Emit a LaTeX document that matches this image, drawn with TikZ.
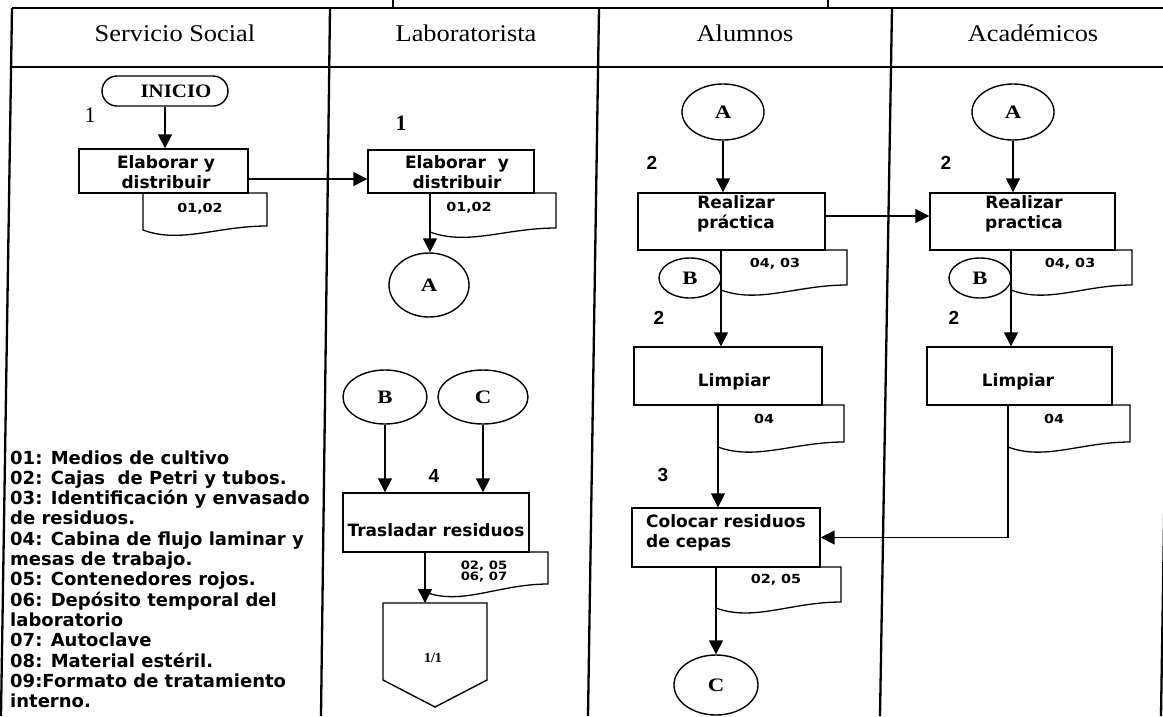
\documentclass[tikz,border=0pt]{standalone}
\usepackage{fontspec}
\setmainfont{Liberation Serif}
\newfontfamily\hdrfont{Liberation Serif}[FakeStretch=1.1]
\newfontfamily\procfont{DejaVu Sans}
\newfontfamily\memofont{DejaVu Sans}[FakeStretch=1.15]
\newfontfamily\digitfont{Liberation Sans}
\newfontfamily\cfont{Liberation Serif}[FakeStretch=1.2]
\usetikzlibrary{arrows.meta,shapes.geometric}

% document symbol: name, left x, top y, right x, bottom-left y, bottom-right y
\newcommand{\docsh}[6]{%
  \draw[line width=1.3pt] (#2,#3) -- (#4,#3) -- (#4,#6)
    .. controls ({#2+0.6*(#4-#2)},#6) and ({#2+0.3*(#4-#2)},{#5+14}) .. (#2,#5) -- cycle;
  \coordinate (#1) at (#2,#3);}

\begin{document}
\begin{tikzpicture}[x=1pt,y=-1pt,
  frame/.style={line width=2.3pt},
  procbox/.style={draw, rectangle, line width=1.4pt, inner sep=0pt},
  boxtxt/.style={font=\procfont\bfseries\fontsize{17}{19.5}\selectfont, align=center, inner sep=0pt},
  doctxt/.style={font=\memofont\bfseries\fontsize{12.5}{12.5}\selectfont, align=center, inner sep=0pt},
  conn/.style={draw, ellipse, line width=1.4pt, inner sep=0pt, font=\cfont\bfseries\fontsize{19}{19}\selectfont},
  hdr/.style={font=\hdrfont\fontsize{24}{24}\selectfont, inner sep=0pt},
  serifnum/.style={font=\fontsize{22}{22}\selectfont, inner sep=0pt},
  stepnum/.style={font=\digitfont\bfseries\fontsize{19}{19}\selectfont, inner sep=0pt},
  legend/.style={font=\procfont\bfseries\fontsize{18}{20}\selectfont, inner sep=0pt, anchor=base west},
  arr/.style={line width=1.5pt, -{Triangle[length=14pt,width=14pt]}}
]
\useasboundingbox (0,0) rectangle (1163,716);
\fill[white] (0,0) rectangle (1163,716);

% swimlane frame
\draw[frame] (12,8) -- (1163,8);
\draw[frame] (11,67) -- (1163,67);
\draw[frame] (12,8) -- (1,716);
\draw[frame] (330,8) -- (321,716);
\draw[frame] (599,8) -- (588,716);
\draw[frame] (892,8) -- (880,716);
\draw[frame] (1172,8) -- (1161,716);
\draw[frame] (393,0) -- (393,8);
\draw[frame] (828,0) -- (828,8);

% lane headers
\node[hdr] (hSS)  at (175,33)  {Servicio Social};
\node[hdr] (hLab) at (466,33)  {Laboratorista};
\node[hdr] (hAlu) at (745,33)  {Alumnos};
\node[hdr] (hAca) at (1033,33) {Académicos};

% Servicio Social
\node[procbox, minimum width=126pt, minimum height=30pt, rounded corners=15pt] (inicio) at (165,91) {};
\node[font=\hdrfont\bfseries\fontsize{19}{19}\selectfont, inner sep=0pt] (inicioT) at (176,91) {INICIO};
\node[serifnum] (s1) at (90,115) {1};
\node[procbox, minimum width=169pt, minimum height=44pt] (ssbox) at (163.5,171) {};
\node[boxtxt] (ssboxT) at (166,172) {Elaborar y\\distribuir};
\docsh{dSS}{143}{193}{267}{230}{226}
\node[doctxt] (dSST) at (200,209) {01,02};

% legend
\foreach \t [count=\i] in {01: Medios de cultivo, 02: Cajas\ \ de Petri y tubos., 03: Identificación y envasado, de residuos., 04: Cabina de flujo laminar y, mesas de trabajo., 05: Contenedores rojos., 06: Depósito temporal del, laboratorio, 07: Autoclave, 08: Material estéril., 09:Formato de tratamiento, interno.}
  \node[legend] (leg\i) at (10,{464+20.33*(\i-1)}) {\t};

% Laboratorista
\node[serifnum, font=\bfseries\fontsize{22}{22}\selectfont] (l1) at (401,123) {1};
\node[procbox, minimum width=166pt, minimum height=43pt] (labbox) at (451,171.5) {};
\node[boxtxt] (labboxT) at (457,172) {Elaborar\ \ y\\distribuir};
\docsh{dLab}{430}{193}{556}{232}{228}
\node[doctxt] (dLabT) at (469,208) {01,02};
\node[conn, minimum width=80pt, minimum height=64pt] (labA) at (429,285) {A};
\node[conn, minimum width=84pt, minimum height=54pt] (labB) at (385,397) {B};
\node[conn, minimum width=90pt, minimum height=54pt] (labC) at (483,397) {C};
\node[stepnum] (l4) at (434,476) {4};
\node[procbox, minimum width=186pt, minimum height=59pt] (trasl) at (436,522.5) {};
\node[boxtxt] (traslT) at (436,530) {Trasladar residuos};
\docsh{dTr}{425}{552}{548}{592}{584}
\node[doctxt, font=\memofont\bfseries\fontsize{11.5}{11}\selectfont] (dTrT) at (484,572) {02, 05\\06, 07};
% off-page connector
\draw[line width=1.4pt] (383,603) -- (487,603) -- (487,680) -- (435,707) -- (383,680) -- cycle;
\coordinate (pentTop) at (435,603);
\node[font=\bfseries\fontsize{14}{14}\selectfont, inner sep=0pt] (pentT) at (433,658) {1/1};

% Alumnos
\node[conn, minimum width=82pt, minimum height=56pt] (aluA) at (723,112) {A};
\node[stepnum] (a2a) at (652,163) {2};
\node[procbox, minimum width=187pt, minimum height=57pt] (realA) at (731.5,221.5) {};
\node[boxtxt] (realAT) at (736,214) {Realizar\\práctica};
\docsh{dRA}{721}{250}{847}{290}{285}
\node[doctxt] (dRAT) at (775,264) {04, 03};
\node[conn, minimum width=62pt, minimum height=40pt] (aluB) at (690,278) {B};
\node[stepnum] (a2b) at (659,318) {2};
\node[procbox, minimum width=188pt, minimum height=58pt] (limpA) at (728,376) {};
\node[boxtxt] (limpAT) at (734,382) {Limpiar};
\docsh{dLA}{718}{405}{844}{447}{442}
\node[doctxt] (dLAT) at (764,419) {04};
\node[stepnum] (a3) at (663,475) {3};
\node[procbox, minimum width=188pt, minimum height=59pt] (coloc) at (726,537.5) {};
\node[boxtxt, align=left, anchor=west] (colocT) at (646,533) {Colocar residuos\\de cepas};
\docsh{dCol}{716}{567}{841}{608}{602}
\node[doctxt] (dColT) at (776,580) {02, 05};
\node[conn, minimum width=84pt, minimum height=60pt] (aluC) at (716,685) {C};

% Académicos
\node[conn, minimum width=82pt, minimum height=56pt] (acaA) at (1013,112) {A};
\node[stepnum] (c2a) at (946,163) {2};
\node[procbox, minimum width=185pt, minimum height=57pt] (realB) at (1022.5,221.5) {};
\node[boxtxt] (realBT) at (1024,214) {Realizar\\practica};
\docsh{dRB}{1011}{250}{1132}{290}{285}
\node[doctxt] (dRBT) at (1070,264) {04, 03};
\node[conn, minimum width=62pt, minimum height=40pt] (acaB) at (980,278) {B};
\node[stepnum] (c2b) at (954,318) {2};
\node[procbox, minimum width=185pt, minimum height=58pt] (limpB) at (1019.5,376) {};
\node[boxtxt] (limpBT) at (1018,382) {Limpiar};
\docsh{dLB}{1008}{405}{1130}{447}{442}
\node[doctxt] (dLBT) at (1054,419) {04};

% connectors
\draw[arr] (inicio.south) -- (inicio.south |- ssbox.north);
\draw[arr] (ssbox.east |- 0,179) -- (labbox.west |- 0,179);
\draw[arr] (dLab) -- (dLab |- labA.north);
\draw[arr] (labB.south) -- (labB.south |- trasl.north);
\draw[arr] (labC.south) -- (labC.south |- trasl.north);
\draw[arr] (dTr) -- (dTr |- pentTop);
\draw[arr] (aluA.south) -- (aluA.south |- realA.north);
\draw[arr] (realA.east |- 0,216) -- (realB.west |- 0,216);
\draw[arr] (dRA) -- (dRA |- limpA.north);
\draw[arr] (dLA) -- (dLA |- coloc.north);
\draw[arr] (dCol) -- (dCol |- aluC.north);
\draw[arr] (acaA.south) -- (acaA.south |- realB.north);
\draw[arr] (dRB) -- (dRB |- limpB.north);
\draw[arr] (dLB) -- (dLB |- coloc.east) -- (coloc.east);
\end{tikzpicture}
\end{document}
